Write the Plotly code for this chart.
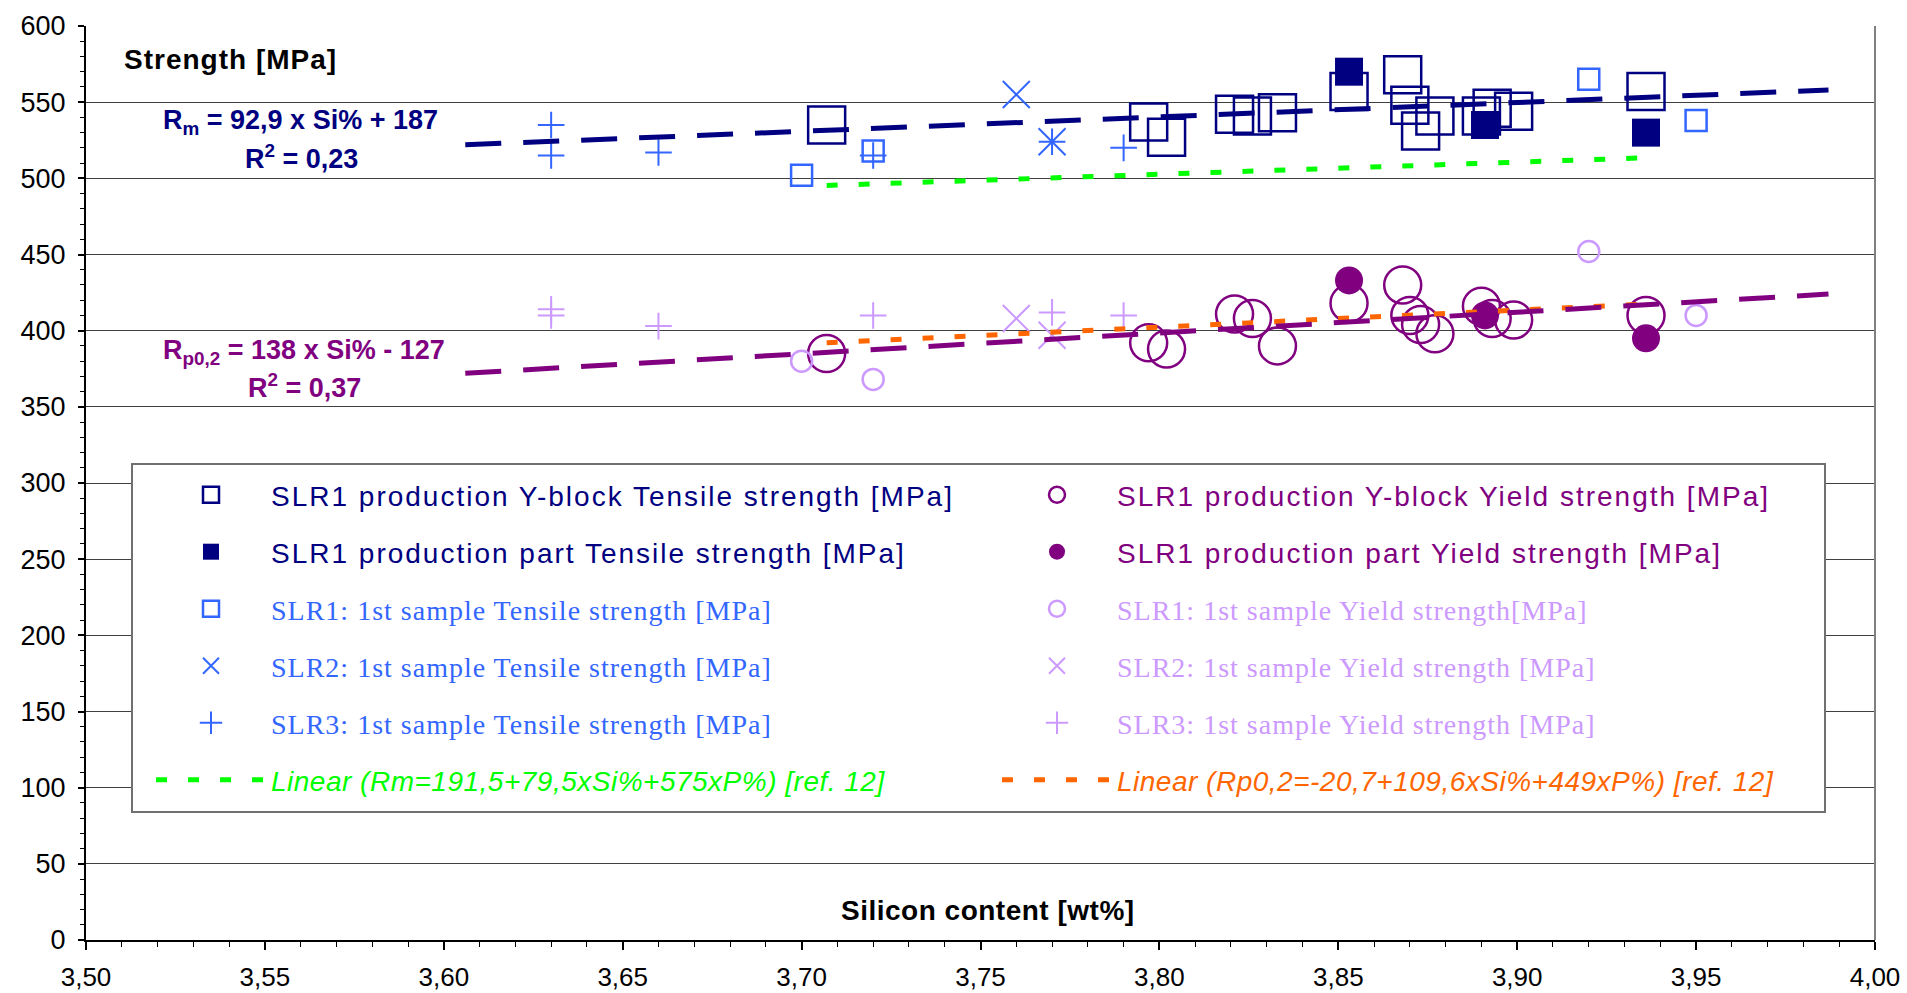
import plotly.graph_objects as go

# ---------------- data ----------------
# SLR1 production Y-block (large open markers)
yblock_si = [3.707, 3.797, 3.802, 3.821, 3.826, 3.833, 3.853, 3.868, 3.870, 3.873, 3.877, 3.890, 3.893, 3.899, 3.936]
yblock_rm = [535, 537, 527, 542, 541, 543, 557, 568, 548, 531, 541, 541, 546, 544, 557]
yblock_rp = [385, 392, 388, 411, 408, 390, 418, 430, 410, 404, 398, 416, 408, 407, 410]

# SLR1 production part (filled markers)
part_si = [3.853, 3.891, 3.936]
part_rm = [570, 535, 530]
part_rp = [433, 410, 395]

# 1st samples
slr1_si = [3.70, 3.72, 3.92, 3.95]
slr1_rm = [502, 518, 565, 538]
slr1_rp = [380, 368, 452, 410]

slr2_si = [3.76, 3.77]
slr2_rm = [555, 524]
slr2_rp = [408, 397]

slr3_si = [3.63, 3.63, 3.66, 3.72, 3.77, 3.79]
slr3_rm = [535, 515, 517, 515, 524, 520]
slr3_rp = [414, 410, 403, 410, 412, 410]

# line end points
ref_si = [3.707, 3.936]
ref_rm = [495.3, 513.5]
ref_rp = [392.0, 417.5]

fit_si = [3.606, 3.987]
fit_rm = [522.0, 558.0]
fit_rp = [372.0, 424.0]

x_ticks = [3.50, 3.55, 3.60, 3.65, 3.70, 3.75, 3.80, 3.85, 3.90, 3.95, 4.00]
y_ticks = [0, 50, 100, 150, 200, 250, 300, 350, 400, 450, 500, 550, 600]

# ---------------- styling ----------------
NAVY = "#000080"
PURPLE = "#800080"
LBLUE = "#3366FF"
LPURP = "#CC99FF"
GREEN = "#00FF00"
ORANGE = "#FF6600"
SANS = "Liberation Sans, Arial, sans-serif"
SERIF = "Liberation Serif, Times New Roman, serif"

W, H = 1907, 993
ML, MR, MT, MB = 86, 32, 26, 53
PW = W - ML - MR
PH = H - MT - MB


def px(xp):
    return (xp - ML) / PW


def py(yp):
    return (H - MB - yp) / PH


def sp(text, ls):
    return "<span style='letter-spacing:%spx'>%s</span>" % (ls, text)


fig = go.Figure()

# markers
fig.add_trace(go.Scatter(x=yblock_si, y=yblock_rm, mode="markers", legend="legend",
                         name=sp("SLR1 production Y-block Tensile strength [MPa]", 2),
                         marker=dict(symbol="square-open", size=37, color=NAVY, line=dict(width=2.5, color=NAVY))))
fig.add_trace(go.Scatter(x=part_si, y=part_rm, mode="markers", legend="legend2",
                         name=sp("SLR1 production part Tensile strength [MPa]", 2),
                         marker=dict(symbol="square", size=28, color=NAVY, line=dict(width=0))))
fig.add_trace(go.Scatter(x=slr1_si, y=slr1_rm, mode="markers", legend="legend3",
                         name=sp("SLR1: 1st sample Tensile strength [MPa]", 1),
                         marker=dict(symbol="square-open", size=21, color=LBLUE, line=dict(width=2.5, color=LBLUE))))
fig.add_trace(go.Scatter(x=slr2_si, y=slr2_rm, mode="markers", legend="legend4",
                         name=sp("SLR2: 1st sample Tensile strength [MPa]", 1),
                         marker=dict(symbol="x-thin-open", size=27, color=LBLUE, line=dict(width=2, color=LBLUE))))
fig.add_trace(go.Scatter(x=slr3_si, y=slr3_rm, mode="markers", legend="legend5",
                         name=sp("SLR3: 1st sample Tensile strength [MPa]", 1),
                         marker=dict(symbol="cross-thin-open", size=19, color=LBLUE, line=dict(width=2, color=LBLUE))))

fig.add_trace(go.Scatter(x=yblock_si, y=yblock_rp, mode="markers", legend="legend7",
                         name=sp("SLR1 production Y-block Yield strength [MPa]", 2),
                         marker=dict(symbol="circle-open", size=37, color=PURPLE, line=dict(width=2.5, color=PURPLE))))
fig.add_trace(go.Scatter(x=part_si, y=part_rp, mode="markers", legend="legend8",
                         name=sp("SLR1 production part Yield strength [MPa]", 2),
                         marker=dict(symbol="circle", size=28, color=PURPLE, line=dict(width=0))))
fig.add_trace(go.Scatter(x=slr1_si, y=slr1_rp, mode="markers", legend="legend9",
                         name=sp("SLR1: 1st sample Yield strength[MPa]", 1),
                         marker=dict(symbol="circle-open", size=21, color=LPURP, line=dict(width=2.5, color=LPURP))))
fig.add_trace(go.Scatter(x=slr2_si, y=slr2_rp, mode="markers", legend="legend10",
                         name=sp("SLR2: 1st sample Yield strength [MPa]", 1),
                         marker=dict(symbol="x-thin-open", size=27, color=LPURP, line=dict(width=2, color=LPURP))))
fig.add_trace(go.Scatter(x=slr3_si, y=slr3_rp, mode="markers", legend="legend11",
                         name=sp("SLR3: 1st sample Yield strength [MPa]", 1),
                         marker=dict(symbol="cross-thin-open", size=19, color=LPURP, line=dict(width=2, color=LPURP))))

# lines
fig.add_trace(go.Scatter(x=ref_si, y=ref_rm, mode="lines", legend="legend6",
                         name="<i>" + sp("Linear (Rm=191,5+79,5xSi%+575xP%) [ref. 12]", 0.5) + "</i>",
                         line=dict(color=GREEN, width=5, dash="11px,21px")))
fig.add_trace(go.Scatter(x=ref_si, y=ref_rp, mode="lines", legend="legend12",
                         name="<i>" + sp("Linear (Rp0,2=-20,7+109,6xSi%+449xP%) [ref. 12]", 0.5) + "</i>",
                         line=dict(color=ORANGE, width=5, dash="11px,21px")))
fig.add_trace(go.Scatter(x=fit_si, y=fit_rm, mode="lines", showlegend=False,
                         line=dict(color=NAVY, width=5, dash="36px,22px")))
fig.add_trace(go.Scatter(x=fit_si, y=fit_rp, mode="lines", showlegend=False,
                         line=dict(color=PURPLE, width=5, dash="36px,22px")))

# legends: one per entry so each row can be placed like the original
rows = [495, 552, 609, 666, 723, 780]
left_x, right_x = 151, 997
leg_specs = [
    ("legend", left_x, rows[0], SANS, 28, NAVY),
    ("legend2", left_x, rows[1], SANS, 28, NAVY),
    ("legend3", left_x, rows[2], SERIF, 28, LBLUE),
    ("legend4", left_x, rows[3], SERIF, 28, LBLUE),
    ("legend5", left_x, rows[4], SERIF, 28, LBLUE),
    ("legend6", left_x, rows[5], SANS, 28, GREEN),
    ("legend7", right_x, rows[0], SANS, 28, PURPLE),
    ("legend8", right_x, rows[1], SANS, 28, PURPLE),
    ("legend9", right_x, rows[2], SERIF, 28, LPURP),
    ("legend10", right_x, rows[3], SERIF, 28, LPURP),
    ("legend11", right_x, rows[4], SERIF, 28, LPURP),
    ("legend12", right_x, rows[5], SANS, 28, ORANGE),
]
legend_layout = {}
for key, lx, ly, fam, size, col in leg_specs:
    legend_layout[key] = dict(x=px(lx), y=py(ly), xanchor="left", yanchor="middle",
                              bgcolor="rgba(0,0,0,0)", borderwidth=0, itemwidth=110,
                              font=dict(family=fam, size=size, color=col),
                              itemclick=False, itemdoubleclick=False)

annotations = [
    dict(x=px(122), y=py(60), xref="paper", yref="paper", xanchor="left", yanchor="middle",
         text="<b>" + sp("Strength [MPa]", 1) + "</b>", showarrow=False,
         font=dict(family=SANS, size=28, color="black")),
    dict(x=px(988), y=py(910), xref="paper", yref="paper", xanchor="center", yanchor="middle",
         text="<b>" + sp("Silicon content [wt%]", 0.5) + "</b>", showarrow=False,
         font=dict(family=SANS, size=28, color="black")),
    dict(x=px(300), y=py(122), xref="paper", yref="paper", xanchor="center", yanchor="middle",
         text="<b>R<sub>m</sub> = 92,9 x Si% + 187</b>", showarrow=False,
         font=dict(family=SANS, size=27, color=NAVY)),
    dict(x=px(301), y=py(157), xref="paper", yref="paper", xanchor="center", yanchor="middle",
         text="<b>R<sup>2</sup> = 0,23</b>", showarrow=False,
         font=dict(family=SANS, size=27, color=NAVY)),
    dict(x=px(304), y=py(352), xref="paper", yref="paper", xanchor="center", yanchor="middle",
         text="<b>R<sub>p0,2</sub> = 138 x Si% - 127</b>", showarrow=False,
         font=dict(family=SANS, size=27, color=PURPLE)),
    dict(x=px(304), y=py(386), xref="paper", yref="paper", xanchor="center", yanchor="middle",
         text="<b>R<sup>2</sup> = 0,37</b>", showarrow=False,
         font=dict(family=SANS, size=27, color=PURPLE)),
]

shapes = [
    dict(type="rect", xref="paper", yref="paper", x0=px(132), x1=px(1825), y0=py(464), y1=py(812),
         line=dict(color="#707070", width=2), fillcolor="white", layer="above"),
    dict(type="line", xref="paper", yref="paper", x0=1, x1=1, y0=0, y1=1,
         line=dict(color="#808080", width=2), layer="above"),
]

fig.update_layout(
    width=W, height=H, template="none",
    margin=dict(l=ML, r=MR, t=MT, b=MB, pad=0),
    paper_bgcolor="white", plot_bgcolor="white",
    separators=", ",
    font=dict(family=SANS, size=26, color="black"),
    annotations=annotations, shapes=shapes,
    **legend_layout,
)

fig.update_xaxes(
    range=[3.5, 4.0], tickmode="array", tickvals=x_ticks,
    ticktext=[("%.2f" % v).replace(".", ",") for v in x_ticks],
    showgrid=False, zeroline=False,
    showline=True, linecolor="black", linewidth=2,
    ticks="outside", ticklen=8, tickwidth=1.5, tickcolor="black",
    minor=dict(dtick=0.01, tick0=3.5, ticks="outside", ticklen=5, tickwidth=1.2, tickcolor="black", showgrid=False),
    tickfont=dict(family=SANS, size=26, color="black"),
    ticklabelstandoff=5,
)
fig.update_yaxes(
    range=[0, 600], tickmode="array", tickvals=y_ticks,
    showgrid=True, gridcolor="#404040", gridwidth=1.3, zeroline=False,
    showline=True, linecolor="black", linewidth=2,
    ticks="outside", ticklen=6, tickwidth=1.5, tickcolor="black",
    minor=dict(dtick=10, tick0=0, ticks="outside", ticklen=4, tickwidth=1.2, tickcolor="black", showgrid=False),
    tickfont=dict(family=SANS, size=27, color="black"),
    ticklabelstandoff=7,
)

fig.write_html("out.html")
